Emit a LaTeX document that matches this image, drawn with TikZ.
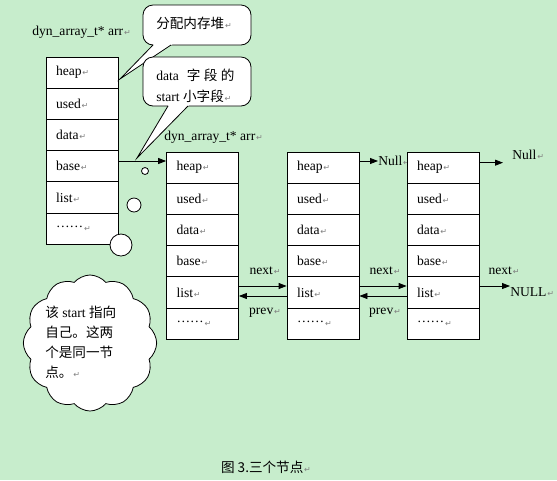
\documentclass[tikz,border=0pt]{standalone}
\usepackage{fontspec}
\setmainfont{Liberation Serif}
\newfontfamily\cjk{Noto Sans CJK SC}
\newfontfamily\symf{DejaVu Sans}
\usetikzlibrary{arrows.meta,shapes.symbols,calc}
\definecolor{bg}{RGB}{199,237,204}
\newcommand\pmk{\kern0.6pt{\symf\fontsize{6}{6}\selectfont\textcolor{gray}{↵}}}
\newcommand\zh[1]{{\cjk #1}}
\newcommand\mydots{\raisebox{2.6pt}{……}}
\begin{document}
\begin{tikzpicture}[x=0.75pt,y=-0.75pt,
  txt/.style={font=\fontsize{10.2}{12}\selectfont},
  cell/.style={draw, fill=white, line width=0.6pt, minimum width=54pt, minimum height=23.4pt,
    text width=39pt, inner xsep=7.5pt, inner ysep=0pt, align=left, txt},
  lbl/.style={inner sep=0pt, txt},
  arr/.style={-{Triangle[length=6pt,width=4.5pt]}, line width=0.6pt},
  bubble/.style={draw, fill=white, line width=0.6pt, rounded corners=7.5pt},
  tail/.style={line width=0.6pt},
  thought/.style={circle, draw, fill=white, line width=0.6pt, inner sep=0pt}]
\fill[bg] (0,0) rectangle (557,480);
\useasboundingbox (0,0) rectangle (557,480);

% labels above the columns
\node[lbl, anchor=west] (lab1) at (32,32) {dyn\_array\_t* arr\pmk};
\node[lbl, anchor=west] (lab2) at (164,137) {dyn\_array\_t* arr\pmk};

% Null behind column 4
\node[lbl, anchor=west] (null1) at (378,161) {Null\pmk};

% columns of cells
\foreach \c/\x/\y in {a/82/57,b/202.5/152,c/323/152,d/443/152}{
  \foreach \t [count=\i] in {heap,used,data,base,list,\mydots}{
    \node[cell] (\c\i) at (\x,{\y+15.6+(\i-1)*31.2}) {\t\pmk};
  }
}

% callout 1
\coordinate (t1) at (120,79);
\coordinate (a1) at (153,45);
\coordinate (b1p) at (171,45);
\draw[bubble] (143,5) rectangle (251,45);
\fill[white] ($(t1)!1.15!(a1)$) -- (t1) -- ($(t1)!1.15!(b1p)$) -- cycle;
\draw[tail] (a1) -- (t1) -- (b1p);

% callout 2
\coordinate (t2) at (137,158);
\coordinate (a2) at (168,106);
\coordinate (b2p) at (188,106);
\draw[bubble] (143,57) rectangle (251,106);
\fill[white] ($(t2)!1.12!(a2)$) -- (t2) -- ($(t2)!1.12!(b2p)$) -- cycle;
\draw[tail] (a2) -- (t2) -- (b2p);

\node[lbl, anchor=west] (bt1) at (156,23) {\zh{分配内存堆}\pmk};
\node[lbl, anchor=west, align=left, font=\fontsize{10.2}{15.75}\selectfont] (bt2) at (156,85.5)
  {data\hspace{6pt}\zh{字\hspace{2.5pt}段\hspace{2.5pt}的}\\start \zh{小字段}\pmk};

% thought bubbles
\node[thought, minimum size=5.25pt] (c1s) at (145,171) {};
\node[thought, minimum size=10.5pt] (c2s) at (134,205) {};
\node[thought, minimum size=16.5pt] (c3s) at (121,245) {};

% cloud
\node[cloud, draw, fill=white, line width=0.6pt, cloud puffs=12, cloud puff arc=100, aspect=1,
  minimum width=100pt, minimum height=102pt, inner sep=0pt] (cl) at (90,343) {};
\node[lbl, anchor=west, align=left, font=\fontsize{10.2}{15}\selectfont] (clt) at (45,342)
  {\zh{该} start \zh{指向}\\\zh{自己。这两}\\\zh{个是同一节}\\\zh{点。}\pmk};

% pointer from base to next node
\draw[arr] ([yshift=3.9pt]a4.east) -- ([yshift=3.9pt]a4.east -| b1.west);

% heap -> Null
\draw[arr] ([yshift=4.95pt]c1.east) -- ([yshift=4.95pt]c1.east -| null1.west);
\node[lbl, anchor=west] (null2) at (512,155) {Null\pmk};
\coordinate (n2end) at ([xshift=-6.75pt]null2.west);
\draw[arr] ([yshift=3.7pt]d1.east) -- ([yshift=3.7pt]d1.east -| n2end);

% next / prev links
\draw[arr] ([yshift=4.8pt]b5.east) -- ([yshift=4.8pt]c5.west);
\draw[arr] ([yshift=-2.7pt]c5.west) -- ([yshift=-2.7pt]b5.east);
\draw[arr] ([yshift=4.8pt]c5.east) -- ([yshift=4.8pt]d5.west);
\draw[arr] ([yshift=-2.7pt]d5.west) -- ([yshift=-2.7pt]c5.east);
\node[lbl, anchor=west] (nullc) at (510,292) {NULL\pmk};
\draw[arr] ([yshift=4.8pt]d5.east) -- ([yshift=4.8pt]d5.east -| nullc.west);

\node[lbl] (nx1) at (265,271) {next\pmk};
\node[lbl] (pv1) at (265,313) {prev\pmk};
\node[lbl] (nx2) at (385,271) {next\pmk};
\node[lbl] (pv2) at (385,313) {prev\pmk};
\node[lbl] (nx3) at (504,271) {next\pmk};

% caption
\node[lbl] (cap) at (266,467) {\zh{图 3.三个节点}\pmk};
\end{tikzpicture}
\end{document}
